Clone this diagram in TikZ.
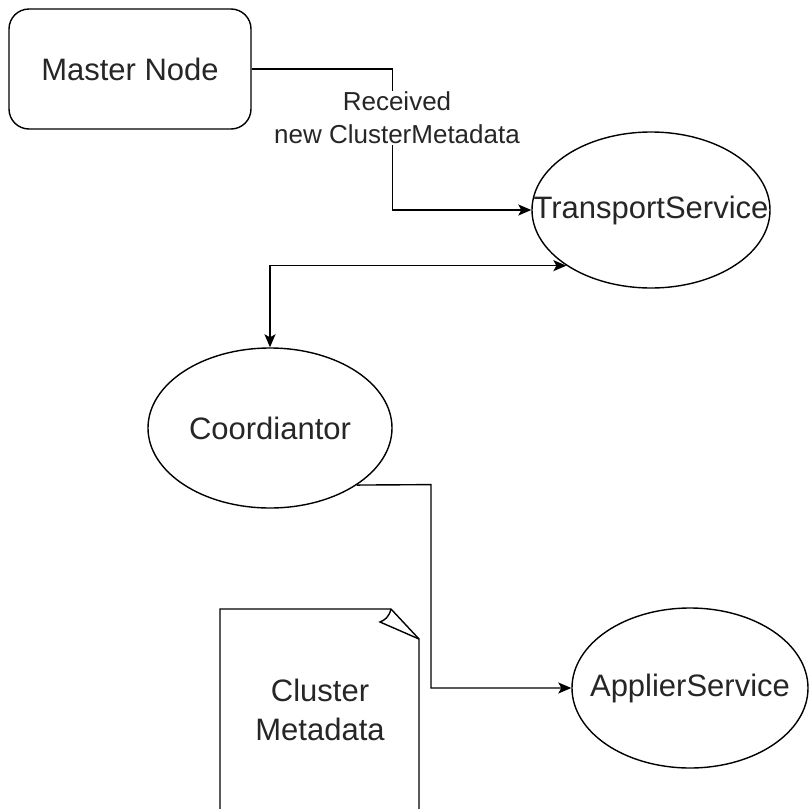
\documentclass[tikz,border=0pt]{standalone}
\usepackage{fontspec}
\setmainfont{Liberation Sans}
\usetikzlibrary{shapes.geometric,arrows.meta}
\newcommand{\zw}[1]{\makebox[0pt]{#1}}
\begin{document}
\begin{tikzpicture}[x=1pt,y=-1pt,
  line width=1.4pt,
  big/.style={font=\fontsize{31}{39}\selectfont, text=black!85},
  ell/.style={draw, ellipse, inner sep=0pt, big},
  conn/.style={-{Stealth[length=13pt,width=11pt,inset=3pt]}},
  dconn/.style={{Stealth[length=13pt,width=11pt,inset=3pt]}-{Stealth[length=13pt,width=11pt,inset=3pt]}},
  lbl/.style={font=\fontsize{26}{33}\selectfont, text=black!85, fill=white, align=center, inner sep=1pt}
]
\useasboundingbox (0,0) rectangle (809,809);
\clip (0,0) rectangle (809,809);

\node[draw, rounded corners=20pt, minimum width=242pt, minimum height=120pt, big] (master) at (130,69) {Master Node};
\node[ell, minimum width=238pt, minimum height=156pt] (ts) at (651,210) {\zw{TransportService}};
\node[ell, minimum width=244pt, minimum height=160pt] (coord) at (270,428) {\zw{Coordiantor}};
\node[ell, minimum width=236pt, minimum height=160pt] (app) at (690,688) {\zw{ApplierService}};

% note shape
\draw (220,609) -- (391,609) -- (419,639) -- (419,815) -- (220,815) -- cycle;
\draw (391,609) .. controls (389,617) and (385,620) .. (380,622) -- (419,639);
\node[big, align=center] (note) at (320,710) {Cluster\\Metadata};

% connectors
\draw[conn] (master.east) -- ++(141,0) coordinate (c1) |- (ts.west);
\node[lbl] (lab) at (397,118) {Received\\new ClusterMetadata};
\draw[dconn] (coord.north) |- (ts.south west);
\draw[conn] (coord.south east) -- (431,484.6) |- (app.west);
\end{tikzpicture}
\end{document}
